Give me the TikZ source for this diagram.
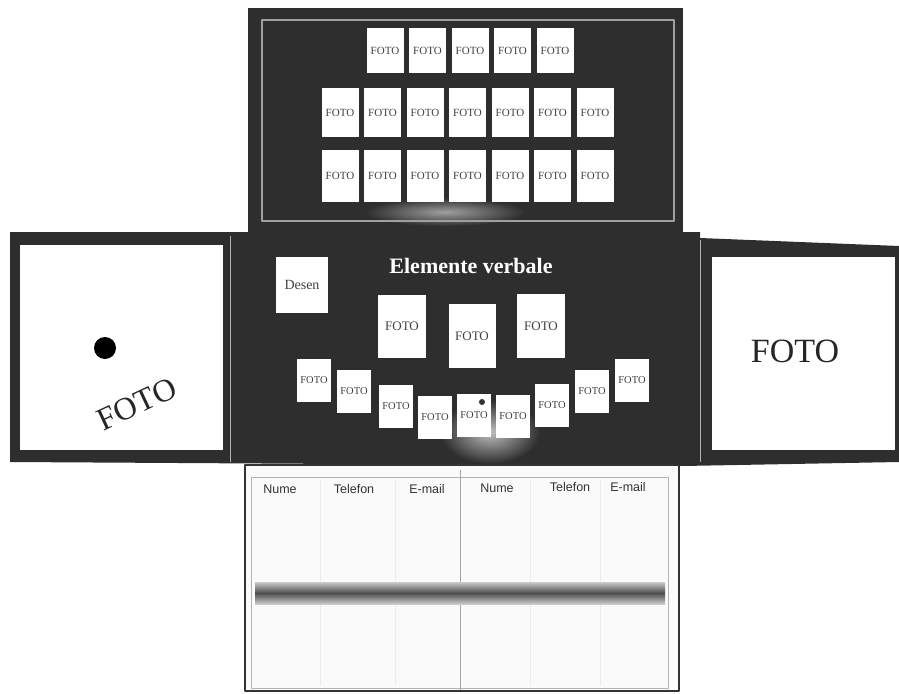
\documentclass[tikz,border=0pt]{standalone}
\usepackage{fontspec}
\setmainfont{Liberation Serif}
\newfontfamily\tabfont{Liberation Sans}
\usetikzlibrary{positioning}
\definecolor{panel}{HTML}{2E2E2E}
\definecolor{rim}{HTML}{A0A0A0}
\newcommand{\fsz}[1]{\fontsize{#1}{#1}\selectfont}
\tikzset{
	tile/.style={fill=white,inner sep=0pt,minimum width=37pt,minimum height=#1,font=\fsz{11},text=black!75},
	tile/.default=46pt,
	small tile/.style={tile=43pt,minimum width=34pt,font=\fsz{10.5}},
	head/.style={font=\tabfont\fsz{12.5},text=black!80}
}
\begin{document}
\begin{tikzpicture}[x=1pt,y=-1pt,line join=round]
	\useasboundingbox (0,0) rectangle (899,693);
	%Panoul de sus
	\fill[panel] (248,8) rectangle (683,236);
	\shade[inner color=gray!75,outer color=panel] (445,212) ellipse (80 and 14);
	\draw[rim,line width=1.6pt] (262,20) rectangle (674,221);
	%Banda din mijloc si clapele
	\fill[panel] (10,232) -- (700,232) -- (700,238) -- (899,246) -- (899,462) -- (683,466) -- (10,462) -- cycle;
	\shade[inner color=gray!50,outer color=panel] (490,432) ellipse (50 and 32);
	\draw[gray!60,line width=1pt] (230,236) -- (230,462) (700,240) -- (700,462);
	\fill[white] (20,245) rectangle (223,450);
	\fill[white] (712,257) rectangle (895,450);
	%Clapa stanga
	\fill[black] (105,348) circle (11);
	\node[rotate=25,font=\fsz{32},text=black!85,inner sep=0pt] (fl) at (137,404) {FOTO};
	%Clapa dreapta
	\node[font=\fsz{34},text=black!85] (fr) at (795,351) {FOTO};
	%Fotografiile de sus
	\foreach \i in {0,...,4} \node[tile=45pt] (a\i) at (385+42.5*\i,50.5) {FOTO};
	\foreach \i in {0,...,6} \node[tile=49pt] (b\i) at (340+42.5*\i,112.5) {FOTO};
	\foreach \i in {0,...,6} \node[tile=52pt] (c\i) at (340+42.5*\i,176) {FOTO};
	%Elemente verbale
	\node[font=\bfseries\fsz{22},text=white] (title) at (471,266) {Elemente verbale};
	\node[tile=56pt,minimum width=52pt,font=\fsz{14}] (desen) at (302,285) {Desen};
	\node[tile=63pt,minimum width=48pt,font=\fsz{13}] (m1) at (402,326) {FOTO};
	\node[tile=64pt,minimum width=47pt,font=\fsz{13}] (m2) at (472,336) {FOTO};
	\node[tile=64pt,minimum width=48pt,font=\fsz{13}] (m3) at (541,326) {FOTO};
	\foreach \x/\y [count=\i] in {314/380,354/391,396/406,435/417,474/415,513/416,552/405,592/391,632/380}
		\node[small tile] (s\i) at (\x,\y) {FOTO};
	\fill[black!80] (482,402) circle (3);
	%Panoul de jos
	\filldraw[fill=black!2,draw=black!80,line width=1.5pt] (245,465) rectangle (679,691);
	\draw[gray!60] (251,477) rectangle (668,688);
	\draw[gray!70] (460,470) -- (460,690);
	\foreach \x in {320,395,530,600} \draw[gray!15] (\x,480) -- (\x,686);
	\shade[top color=black!20,bottom color=black!20,middle color=black!70] (255,582) rectangle (665,604);
	\node[head] (n1) at (280,489) {Nume};
	\node[head] (t1) at (354,489) {Telefon};
	\node[head] (e1) at (427,489) {E-mail};
	\node[head] (n2) at (497,488) {Nume};
	\node[head] (t2) at (570,487) {Telefon};
	\node[head] (e2) at (628,487) {E-mail};
\end{tikzpicture}
\end{document}
